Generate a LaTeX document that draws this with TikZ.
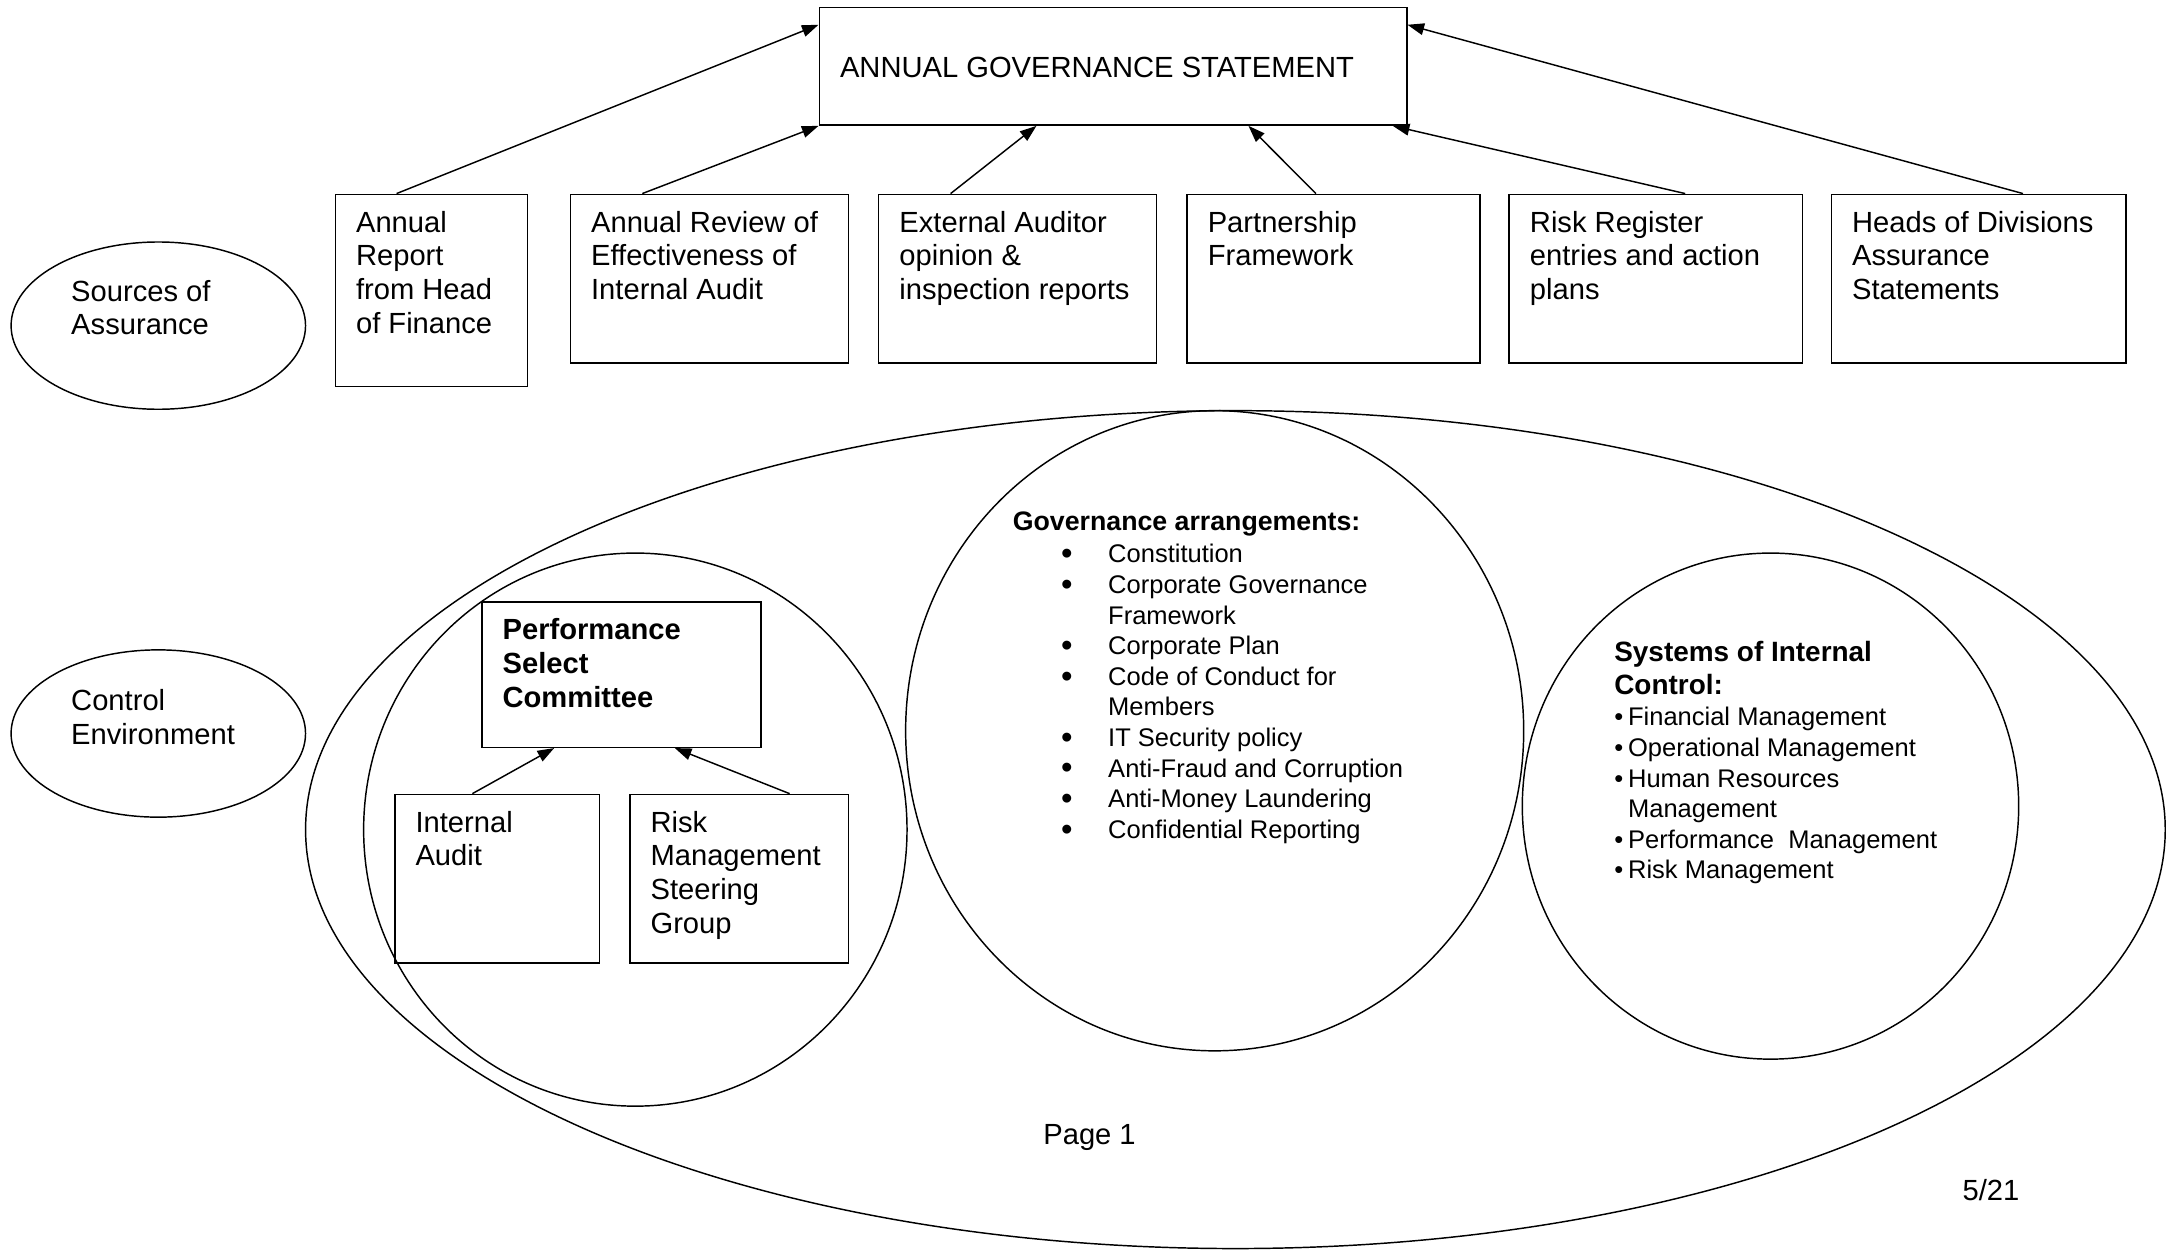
\documentclass[tikz,border=0pt]{standalone}
\usepackage{fontspec}
\setmainfont{Liberation Sans}
\usetikzlibrary{arrows.meta,shapes.geometric,calc}

\tikzset{
  box/.style={draw, anchor=north west, inner sep=0pt},
  boxtext/.style={anchor=north west, inner sep=0pt, align=left,
    font=\fontsize{12}{13.9}\selectfont},
  listtext/.style={anchor=north west, inner sep=0pt,
    font=\fontsize{10.5}{12.6}\selectfont},
  oval/.style={draw, ellipse, inner sep=0pt, minimum width=4.26cm, minimum height=2.42cm},
  link/.style={-{Triangle[length=0.24cm,width=0.17cm]}},
}
\newcommand{\bigdot}{\raisebox{-0.8pt}{\fontsize{13.5}{12.6}\selectfont\textbullet}}

\begin{document}
\begin{tikzpicture}[x=0.02cm, y=-0.02cm, line width=0.6pt]
  \useasboundingbox (0,0) rectangle (1568,904);

  % statement at the top
  \node[box, minimum width=8.5cm, minimum height=1.7cm] (ags) at (592,5) {};
  \node[boxtext, anchor=west] (agstext) at ([shift={(15,44)}]ags.north west) {ANNUAL GOVERNANCE STATEMENT};

  % sources of assurance
  \node[box, minimum width=2.78cm, minimum height=2.78cm] (finance) at (242,140) {};
  \node[box, minimum width=4.02cm, minimum height=2.44cm] (review) at (412,140) {};
  \node[box, minimum width=4.02cm, minimum height=2.44cm] (auditor) at (635,140) {};
  \node[box, minimum width=4.24cm, minimum height=2.44cm] (partner) at (858,140) {};
  \node[box, minimum width=4.24cm, minimum height=2.44cm] (riskreg) at (1091,140) {};
  \node[box, minimum width=4.26cm, minimum height=2.44cm] (heads) at (1324,140) {};

  \node[boxtext] at ([shift={(15,12)}]finance.north west) {Annual\\Report\\from Head\\of Finance};
  \node[boxtext] at ([shift={(15,12)}]review.north west) {Annual Review of\\Effectiveness of\\Internal Audit};
  \node[boxtext] at ([shift={(15,12)}]auditor.north west) {External Auditor\\opinion \&\\inspection reports};
  \node[boxtext] at ([shift={(15,12)}]partner.north west) {Partnership\\Framework};
  \node[boxtext] at ([shift={(15,12)}]riskreg.north west) {Risk Register\\entries and action\\plans};
  \node[boxtext] at ([shift={(15,12)}]heads.north west) {Heads of Divisions\\Assurance\\Statements};

  \draw[link] ($(finance.north west)!0.32!(finance.north east)$) -- ($(ags.north west)!0.15!(ags.south west)$);
  \draw[link] ($(review.north west)!0.26!(review.north east)$) -- (ags.south west);
  \draw[link] ($(auditor.north west)!0.26!(auditor.north east)$) -- ($(ags.south west)!0.37!(ags.south east)$);
  \draw[link] ($(partner.north west)!0.44!(partner.north east)$) -- ($(ags.south west)!0.73!(ags.south east)$);
  \draw[link] ($(riskreg.north west)!0.6!(riskreg.north east)$) -- ($(ags.south west)!0.975!(ags.south east)$);
  \draw[link] ($(heads.north west)!0.65!(heads.north east)$) -- ($(ags.north east)!0.15!(ags.south east)$);

  % side labels
  \node[oval] (sources) at (114.5,235.5) {};
  \node[boxtext] at (51,202) {Sources of\\Assurance};
  \node[oval] (control) at (114.5,530.5) {};
  \node[boxtext] at (51,498) {Control\\Environment};

  % control environment
  \draw (893.5,600) ellipse [x radius=672.5, y radius=303];
  \draw (459.5,600) ellipse [x radius=196.5, y radius=200];
  \draw (878.5,528.5) ellipse [x radius=223.5, y radius=231.5];
  \draw (1280.5,583) ellipse [x radius=179.5, y radius=183];

  \node[box, minimum width=4.04cm, minimum height=2.1cm] (psc) at (348,435) {};
  \node[box, minimum width=2.96cm, minimum height=2.44cm] (audit) at (285,574) {};
  \node[box, minimum width=3.16cm, minimum height=2.44cm] (rmsg) at (455,574) {};
  \node[boxtext, font=\fontsize{12}{13.9}\selectfont\bfseries] at ([shift={(15,12)}]psc.north west) {Performance\\Select\\Committee};
  \node[boxtext] at ([shift={(15,12)}]audit.north west) {Internal\\Audit};
  \node[boxtext] at ([shift={(15,12)}]rmsg.north west) {Risk\\Management\\Steering\\Group};

  \draw[link] ($(audit.north west)!0.38!(audit.north east)$) -- ($(psc.south west)!0.26!(psc.south east)$);
  \draw[link] ($(rmsg.north west)!0.73!(rmsg.north east)$) -- ($(psc.south west)!0.69!(psc.south east)$);

  \node[boxtext, font=\fontsize{11}{13.2}\selectfont\bfseries] (govhead) at (732,370) {Governance arrangements:};
  \node[listtext] (govlist) at (767,391) {%
    \begin{tabular}{@{}p{0.68cm}@{}l@{}}
      \bigdot & Constitution\\
      \bigdot & Corporate Governance\\
              & Framework\\
      \bigdot & Corporate Plan\\
      \bigdot & Code of Conduct for\\
              & Members\\
      \bigdot & IT Security policy\\
      \bigdot & Anti-Fraud and Corruption\\
      \bigdot & Anti-Money Laundering\\
      \bigdot & Confidential Reporting
    \end{tabular}};

  \node[boxtext, font=\fontsize{11.5}{13.6}\selectfont\bfseries] (syshead) at (1167,463) {Systems of Internal\\Control:};
  \node[listtext] (syslist) at (1167,509) {%
    \begin{tabular}{@{}p{0.2cm}@{}l@{}}
      \textbullet & Financial Management\\
      \textbullet & Operational Management\\
      \textbullet & Human Resources\\
                  & Management\\
      \textbullet & Performance\ \ Management\\
      \textbullet & Risk Management
    \end{tabular}};

  % page footer
  \node[font=\fontsize{12}{13.9}\selectfont] (page) at (788,823) {Page 1};
  \node[font=\fontsize{12}{13.9}\selectfont] (sheet) at (1440,861) {5/21};
\end{tikzpicture}
\end{document}
